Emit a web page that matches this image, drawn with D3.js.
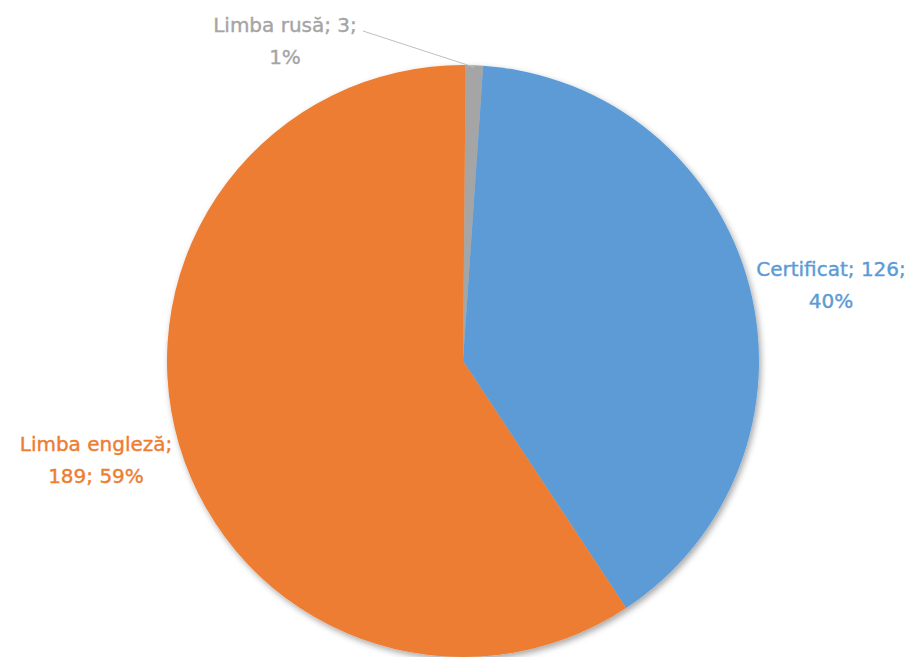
<!DOCTYPE html>
<html><head><meta charset="utf-8">
<script src="https://cdn.jsdelivr.net/npm/d3@7"></script>
<style>html,body{margin:0;padding:0;background:#fff;}svg{display:block;}</style>
</head><body>
<svg id="c" width="913" height="657"></svg>
<script>
const categories = ["Limba rusă", "Certificat", "Limba engleză"];
const values = [3, 126, 189];
const percents = ["1%", "40%", "59%"];
const colors = ["#A5A5A5", "#5B9BD5", "#ED7D31"];

const svg = d3.select("#c");
const cx = 463, cy = 361, r = 296;
const defs = svg.append("defs");
const f = defs.append("filter").attr("id","sh").attr("x","-10%").attr("y","-10%").attr("width","120%").attr("height","120%");
f.append("feDropShadow").attr("dx",2).attr("dy",3).attr("stdDeviation",3).attr("flood-color","#000").attr("flood-opacity",0.35);

const pie = d3.pie().value(d => d).sort(null).startAngle(0.009).endAngle(2*Math.PI + 0.009);
const arcs = pie(values);
const arc = d3.arc().innerRadius(0).outerRadius(r);
const g = svg.append("g").attr("transform", `translate(${cx},${cy})`);
g.append("g").attr("filter","url(#sh)").selectAll("path").data(arcs).enter().append("path")
  .attr("d", arc).attr("fill", (d,i) => colors[i]);

// leader line for small slice
const mid = (arcs[0].startAngle + arcs[0].endAngle)/2;
const px = cx + Math.sin(mid)*(r-2), py = cy - Math.cos(mid)*(r-2);
svg.append("line").attr("x1", 363).attr("y1", 31).attr("x2", px).attr("y2", py)
  .attr("stroke", "#BFBFBF").attr("stroke-width", 1);

const labels = [
  {lines: [`${categories[0]}; ${values[0]};`, percents[0]], x: 285, y: 32},
  {lines: [`${categories[1]}; ${values[1]};`, percents[1]], x: 831, y: 276},
  {lines: [`${categories[2]};`, `${values[2]}; ${percents[2]}`], x: 96, y: 451}
];
labels.forEach((l, i) => {
  const t = svg.append("text").attr("text-anchor","middle")
    .attr("font-family","'DejaVu Sans', sans-serif").attr("font-size", 20)
    .attr("fill", colors[i]).attr("stroke", colors[i]).attr("stroke-width", 0.4);
  l.lines.forEach((s, j) => t.append("tspan").attr("x", l.x).attr("y", l.y + j*32).text(s));
});
</script>
</body></html>
